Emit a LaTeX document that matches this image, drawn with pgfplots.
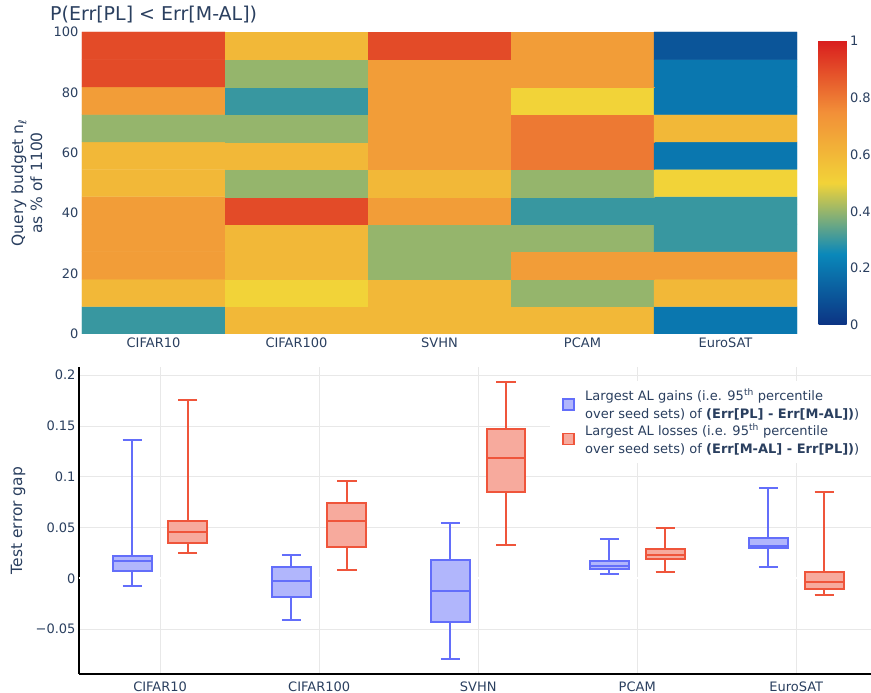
\documentclass[border=0pt]{standalone}
\usepackage{fontspec}
\setmainfont{DejaVu Sans}
\usepackage{pgfplots}
\pgfplotsset{compat=1.18}
\usepgfplotslibrary{statistics}
\definecolor{txt}{RGB}{42,63,95}
\definecolor{pblue}{RGB}{99,110,250}
\definecolor{pred}{RGB}{239,85,59}
\definecolor{gridc}{RGB}{232,232,232}
\newcommand\tickfont{\fontsize{13}{15}\selectfont}
\pgfplotsset{colormap={portland}{rgb255(0cm)=(12,51,131); rgb255(1cm)=(10,136,186); rgb255(2cm)=(242,211,56); rgb255(3cm)=(242,143,56); rgb255(4cm)=(217,30,30)}}
\begin{document}
\begin{tikzpicture}
\begin{axis}[
  at={(82pt,359pt)}, anchor=south west,
  scale only axis, width=715pt, height=302pt,
  xmin=-0.5, xmax=4.5, ymin=0, ymax=100,
  enlargelimits=false,
  axis line style={draw=none},
  major tick length=0pt,
  /pgf/number format/assume math mode=true,
  xtick={0,1,2,3,4},
  xticklabels={CIFAR10,CIFAR100,SVHN,PCAM,EuroSAT},
  ytick={0,20,40,60,80,100},
  ticklabel style={font=\tickfont, text=txt},
  colormap name=portland,
  point meta min=0, point meta max=1,
  colorbar,
  colorbar/width=28pt,
  colorbar style={at={(parent axis.north east)}, anchor=north west, xshift=13pt, yshift=-9pt,
    scale only axis, height=284pt,
    ytick={0,0.2,0.4,0.6,0.8,1}, yticklabels={0,0.2,0.4,0.6,0.8,1},
    axis line style={draw=none}, major tick length=0pt,
    ticklabel style={font=\tickfont, text=txt}},
  title={P(Err[PL] < Err[M-AL])},
  title style={at={(axis description cs:-0.0448,1)}, anchor=base west, yshift=5pt, inner sep=0pt,
    font=\fontsize{19}{22}\selectfont, text=txt},
  ylabel={Query budget n\textsubscript{ℓ}\\as \% of 1100},
  ylabel style={at={(axis description cs:-0.077,0.5)}, anchor=center, align=center,
    font=\fontsize{15.5}{19}\selectfont, text=txt},
]
\addplot[matrix plot*, mesh/cols=5, point meta=explicit, draw=none] table[meta=c] {
x y c
0 4.545 0.3
1 4.545 0.6
2 4.545 0.6
3 4.545 0.6
4 4.545 0.2
0 13.636 0.6
1 13.636 0.5
2 13.636 0.6
3 13.636 0.4
4 13.636 0.6
0 22.727 0.7
1 22.727 0.6
2 22.727 0.4
3 22.727 0.7
4 22.727 0.7
0 31.818 0.7
1 31.818 0.6
2 31.818 0.4
3 31.818 0.4
4 31.818 0.3
0 40.909 0.7
1 40.909 0.9
2 40.909 0.7
3 40.909 0.3
4 40.909 0.3
0 50.000 0.6
1 50.000 0.4
2 50.000 0.6
3 50.000 0.4
4 50.000 0.5
0 59.091 0.6
1 59.091 0.6
2 59.091 0.7
3 59.091 0.8
4 59.091 0.2
0 68.182 0.4
1 68.182 0.4
2 68.182 0.7
3 68.182 0.8
4 68.182 0.6
0 77.273 0.7
1 77.273 0.3
2 77.273 0.7
3 77.273 0.5
4 77.273 0.2
0 86.364 0.9
1 86.364 0.4
2 86.364 0.7
3 86.364 0.7
4 86.364 0.2
0 95.455 0.9
1 95.455 0.6
2 95.455 0.9
3 95.455 0.7
4 95.455 0.1
};
\end{axis}

\begin{axis}[
  at={(79pt,19pt)}, anchor=south west,
  scale only axis, width=792pt, height=307pt,
  xmin=-0.51, xmax=4.47, ymin=-0.094, ymax=0.208,
  axis x line=bottom, axis y line=left,
  axis line style={black, line width=1.5pt, -},
  major tick length=0pt,
  boxplot/draw direction=y,
  xtick={0,1,2,3,4},
  xticklabels={CIFAR10,CIFAR100,SVHN,PCAM,EuroSAT},
  xticklabel style={yshift=-4pt},
  ytick={-0.05,0,0.05,0.1,0.15,0.2},
  yticklabels={−0.05,0,0.05,0.1,0.15,0.2},
  xmajorgrids, ymajorgrids,
  grid style={gridc, line width=0.8pt},
  extra y ticks={0}, extra y tick labels={},
  extra y tick style={grid style={white, line width=2pt}},
  ticklabel style={font=\tickfont, text=txt},
  ylabel={Test error gap},
  ylabel style={at={(axis description cs:-0.077,0.5)}, anchor=center,
    font=\fontsize{15.5}{19}\selectfont, text=txt},
  legend style={at={(axis description cs:0.595,0.955)}, anchor=north west, draw=none, fill=white,
    font=\fontsize{13}{18}\selectfont, text=txt, row sep=0pt, inner xsep=12pt, inner ysep=6pt},
  legend cell align=left,
  legend style={cells={align=left}},
]
\addlegendimage{legend image code/.code={\draw[pblue, fill=pblue!50!white, line width=1.5pt] (0pt,-5.5pt) rectangle (11pt,5.5pt); \path[draw=none, fill=none] (0pt,0pt) -- (20pt,0pt);}}
\addlegendentry{Largest AL gains (i.e. 95\textsuperscript{th} percentile\\over seed sets) of \textbf{(Err[PL] - Err[M-AL])})}
\addlegendimage{legend image code/.code={\draw[pred, fill=pred!50!white, line width=1.5pt] (0pt,-5.5pt) rectangle (11pt,5.5pt); \path[draw=none, fill=none] (0pt,0pt) -- (20pt,0pt);}}
\addlegendentry{Largest AL losses (i.e. 95\textsuperscript{th} percentile\\over seed sets) of \textbf{(Err[M-AL] - Err[PL])})}

\pgfplotsset{
  bstyle/.style={draw=pblue, fill=pblue!50!white, line width=2pt, forget plot},
  rstyle/.style={draw=pred, fill=pred!50!white, line width=2pt, forget plot},
}
% CIFAR10
\addplot[bstyle, boxplot prepared={draw position=-0.175, lower whisker=-0.0079, lower quartile=0.0069, median=0.0167, upper quartile=0.0222, upper whisker=0.1363, box extend=0.245, whisker extend=0.12}] coordinates {};
\addplot[rstyle, boxplot prepared={draw position=0.175, lower whisker=0.0249, lower quartile=0.0350, median=0.0455, upper quartile=0.0567, upper whisker=0.1754, box extend=0.245, whisker extend=0.12}] coordinates {};
% CIFAR100
\addplot[bstyle, boxplot prepared={draw position=0.825, lower whisker=-0.0413, lower quartile=-0.0181, median=-0.0030, upper quartile=0.0111, upper whisker=0.0232, box extend=0.245, whisker extend=0.12}] coordinates {};
\addplot[rstyle, boxplot prepared={draw position=1.175, lower whisker=0.0082, lower quartile=0.0311, median=0.0564, upper quartile=0.0741, upper whisker=0.0954, box extend=0.245, whisker extend=0.12}] coordinates {};
% SVHN
\addplot[bstyle, boxplot prepared={draw position=1.825, lower whisker=-0.0791, lower quartile=-0.0433, median=-0.0128, upper quartile=0.0177, upper whisker=0.0541, box extend=0.245, whisker extend=0.12}] coordinates {};
\addplot[rstyle, boxplot prepared={draw position=2.175, lower whisker=0.0331, lower quartile=0.0852, median=0.1183, upper quartile=0.1472, upper whisker=0.1931, box extend=0.245, whisker extend=0.12}] coordinates {};
% PCAM
\addplot[bstyle, boxplot prepared={draw position=2.825, lower whisker=0.0039, lower quartile=0.0089, median=0.0118, upper quartile=0.0170, upper whisker=0.0384, box extend=0.245, whisker extend=0.12}] coordinates {};
\addplot[rstyle, boxplot prepared={draw position=3.175, lower whisker=0.0065, lower quartile=0.0187, median=0.0232, upper quartile=0.0285, upper whisker=0.0501, box extend=0.245, whisker extend=0.12}] coordinates {};
% EuroSAT
\addplot[bstyle, boxplot prepared={draw position=3.825, lower whisker=0.0114, lower quartile=0.0301, median=0.0324, upper quartile=0.0396, upper whisker=0.0888, box extend=0.245, whisker extend=0.12}] coordinates {};
\addplot[rstyle, boxplot prepared={draw position=4.175, lower whisker=-0.0161, lower quartile=-0.0102, median=-0.0036, upper quartile=0.0062, upper whisker=0.0846, box extend=0.245, whisker extend=0.12}] coordinates {};
\end{axis}
\pgfresetboundingbox
\path[use as bounding box] (0pt,0pt) rectangle (871pt,693pt);
\end{tikzpicture}
\end{document}
